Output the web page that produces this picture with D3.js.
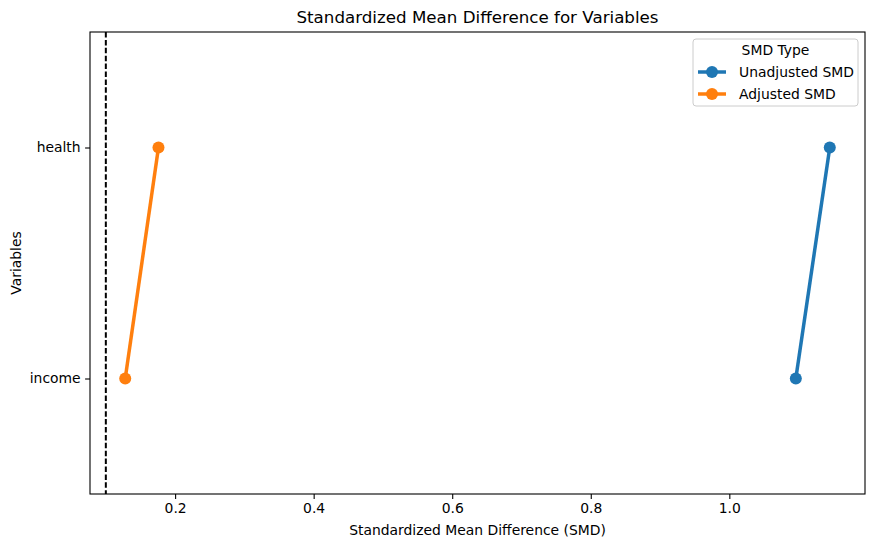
<!DOCTYPE html>
<html>
<head>
<meta charset="utf-8">
<script src="https://cdn.jsdelivr.net/npm/d3@7"></script>
<style>
  body { margin: 0; background: #fff; }
  text { font-family: "DejaVu Sans", sans-serif; fill: #000; }
</style>
</head>
<body>
<svg id="chart" width="875" height="547"></svg>
<script>
// Data
const variables = ["health", "income"];
const seriesNames = ["Unadjusted SMD", "Adjusted SMD"];
const unadjusted = [1.145, 1.096];   // health, income
const adjusted = [0.176, 0.128];
const threshold = 0.1;
const xTicks = [0.2, 0.4, 0.6, 0.8, 1.0];
const colors = ["#1f77b4", "#ff7f0e"];

// Plot area
const plotLeft = 90, plotTop = 32, plotW = 775, plotH = 462;

const svg = d3.select("#chart");

const allVals = unadjusted.concat(adjusted);
const lo = d3.min(allVals), hi = d3.max(allVals);
const pad = (hi - lo) * 0.05;

const x = d3.scaleLinear().domain([lo - pad, hi + pad]).range([plotLeft, plotLeft + plotW]);
const y = d3.scalePoint().domain(variables).range([plotTop, plotTop + plotH]).padding(0.5);

// threshold line
svg.append("line")
   .attr("x1", x(threshold)).attr("x2", x(threshold))
   .attr("y1", plotTop).attr("y2", plotTop + plotH)
   .attr("stroke", "#000")
   .attr("stroke-width", 2)
   .attr("stroke-dasharray", "5.5,2.4");

// series lines + points
const series = [unadjusted, adjusted];
series.forEach((vals, i) => {
    const pts = variables.map((v, j) => ({v: v, val: vals[j]}));
    svg.append("path")
       .datum(pts)
       .attr("fill", "none")
       .attr("stroke", colors[i])
       .attr("stroke-width", 3.5)
       .attr("d", d3.line().x(d => x(d.val)).y(d => y(d.v)));
    svg.append("g")
       .selectAll("circle")
       .data(pts)
       .join("circle")
       .attr("cx", d => x(d.val))
       .attr("cy", d => y(d.v))
       .attr("r", 6)
       .attr("fill", colors[i]);
});

// axes
const xAxis = svg.append("g")
   .attr("transform", `translate(0,${plotTop + plotH})`)
   .call(d3.axisBottom(x).tickValues(xTicks).tickFormat(d3.format(".1f")).tickSize(4.9).tickPadding(4.5));
const yAxis = svg.append("g")
   .attr("transform", `translate(${plotLeft},0)`)
   .call(d3.axisLeft(y).tickSize(4.9).tickPadding(4.5));
[xAxis, yAxis].forEach(a => {
    a.select(".domain").remove();
    a.selectAll("line").attr("stroke", "#000").attr("stroke-width", 1.1);
    a.selectAll("text").style("font-size", "13.9px").style("font-family", "DejaVu Sans");
});

// frame
svg.append("rect")
   .attr("x", plotLeft).attr("y", plotTop)
   .attr("width", plotW).attr("height", plotH)
   .attr("fill", "none")
   .attr("stroke", "#000")
   .attr("stroke-width", 1.1);

// titles
svg.append("text")
   .attr("x", plotLeft + plotW / 2).attr("y", 23)
   .attr("text-anchor", "middle")
   .style("font-size", "16.7px")
   .text("Standardized Mean Difference for Variables");
svg.append("text")
   .attr("x", plotLeft + plotW / 2).attr("y", 535)
   .attr("text-anchor", "middle")
   .style("font-size", "13.9px")
   .text("Standardized Mean Difference (SMD)");
svg.append("text")
   .attr("transform", `translate(21,${plotTop + plotH / 2}) rotate(-90)`)
   .attr("text-anchor", "middle")
   .style("font-size", "13.9px")
   .text("Variables");

// legend
const lg = svg.append("g").attr("transform", "translate(693,39)");
lg.append("rect")
  .attr("width", 165).attr("height", 67)
  .attr("rx", 3)
  .attr("fill", "#fff").attr("fill-opacity", 0.8)
  .attr("stroke", "#ccc");
lg.append("text")
  .attr("x", 82.5).attr("y", 16)
  .attr("text-anchor", "middle")
  .style("font-size", "13.9px")
  .text("SMD Type");
seriesNames.forEach((name, i) => {
    const cy = 33 + i * 22;
    lg.append("line")
      .attr("x1", 5).attr("x2", 33)
      .attr("y1", cy).attr("y2", cy)
      .attr("stroke", colors[i]).attr("stroke-width", 3.5);
    lg.append("circle")
      .attr("cx", 19).attr("cy", cy).attr("r", 6)
      .attr("fill", colors[i]);
    lg.append("text")
      .attr("x", 46).attr("y", cy + 5)
      .style("font-size", "13.9px")
      .text(name);
});
</script>
</body>
</html>
